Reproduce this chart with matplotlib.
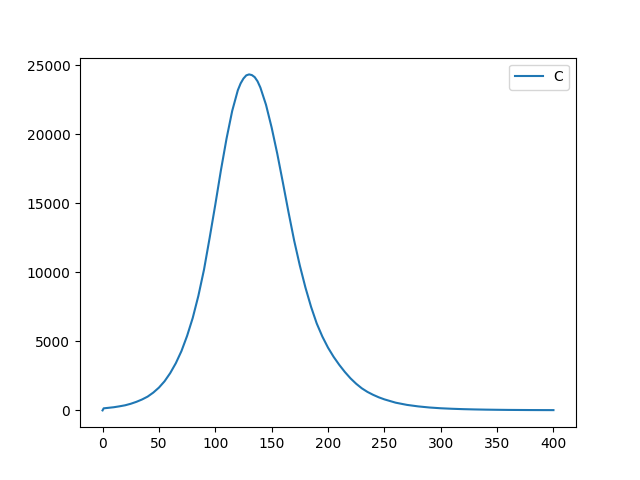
import matplotlib
matplotlib.use("Agg")
import matplotlib.pyplot as plt

# day index and C values
days = [0, 1, 5, 10, 15, 20, 25, 30, 35, 40, 45, 50, 55, 60, 65, 70, 75, 80,
        85, 90, 95, 100, 105, 110, 115, 120, 122.5, 125, 127.5, 130, 132.5,
        135, 137.5, 140, 145, 150, 155, 160, 165, 170, 175, 180, 185, 190,
        195, 200, 205, 210, 215, 220, 225, 230, 235, 240, 245, 250, 260, 270,
        280, 290, 300, 310, 320, 330, 340, 350, 360, 370, 380, 390, 400]
c_vals = [0, 150, 185, 230, 295, 370, 480, 620, 790, 1000, 1290, 1650, 2110,
          2700, 3420, 4300, 5400, 6700, 8300, 10200, 12500, 14900, 17400,
          19700, 21700, 23200, 23700, 24050, 24280, 24350, 24300, 24150,
          23850, 23400, 22150, 20500, 18600, 16500, 14350, 12300, 10500, 8900,
          7500, 6300, 5350, 4550, 3880, 3300, 2780, 2320, 1930, 1600, 1340,
          1130, 950, 800, 560, 400, 290, 210, 155, 118, 90, 70, 55, 44, 35,
          30, 25, 22, 20]

fig, ax = plt.subplots(figsize=(6.4, 4.8), dpi=100)
ax.plot(days, c_vals, label="C")
ax.legend()
fig.savefig("out.png")
